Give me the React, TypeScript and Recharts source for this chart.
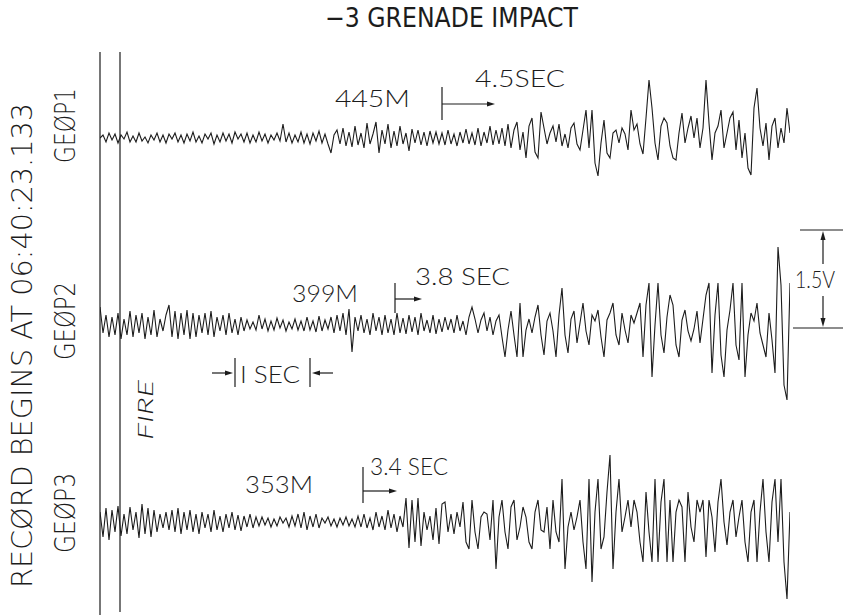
import { Line, LineChart, XAxis, YAxis } from 'recharts';

// amplitudes, one sample every ~0.04 s (plot units, 1.5 V ~ 98 units)
const geop1 = [
  0, 3, -4, 5, -2, 4, -5, 3, -1, 6, -4, 2, -4, 5, -3, 1, -5, 3, -2, 5, -4, 3, -5, 4, -1, 5, -4,
  3, -5, 4, -3, 6, -4, 2, -5, 4, -1, 5, -6, 3, -4, 5, -3, 4, -5, 6, -1, 4, -4, 5, -5, 3, -4, 6, -3, 4, -5, 3, -2, 5, -3,
  14, -4, 5, -5, 3, -4, 6, -5, 4, -6, 5, -3, 7, -5, 4, -6,
  -15, 3, 8, -6, 10, -8, 6, -9, 12, -7, 5, -10, 15, -6, 4, 16, -15, 8, -6, 14, -10, 7, -8, 12, -6, 5, -13, 9, -5, 8, -7, 6, -8, 7, -5, 6, -6,
  5, -7, 8, -6, 4, -8, 6, -5, 9, -6, 5, -7, 10, -8, 6, -5, 12, -7, 8, -6,
  10, -8, 14, -10, 8, 16, -12, 6, -20, 12, 20, -14, -20, 26, 10, -6, 5, 12, -4, 14, -8, 4, -10, 10, 15, -6, -12, 8,
  28, -10, 28, -25, -38, -5, 18, -15, -20, 5, 8, -5, 10, 4, -12, 28, 8, 14, -6, -16, 20, 58, 30, -5, -22, 12, 20, 15,
  -8, -20, -22, 5, 25, -5, 10, 22, 0, 20, -10, 10, 58, 15, -22, 5, 12, 28, -10, 5, 20, 26, -12, 18, -20, 5, -30, -37,
  30, 50, 10, -8, 15, -22, 12, 20, -10, 10, -5, 30, 5,
];

const geop2 = [
  18, -8, 10, -12, 8, -10, 12, -14, 6, -10, 14, -12, 10, -8, 12, -14, 8, -10, 15, -12, 6, -6, 10, 20, -12, 14, -14, 12, -10, 15,
  -14, 12, -12, 10, -8, 12, -10, 14, -12, 8, -6, 10, -10, 12, -8, 6, -10, 8, -6, 5, -4,
  3, -5, 10, -4, 6, -6, 4, -5, 7, -3, 5, -6, 3, -4, 6, -5, 4, -6, 8, -5, 4, -7, 9, -6, 5, -4,
  8, -8, 10, -6, 12, -10, 16, -27, 8, -6, 10, -8, 6, -10, 12, -6, 8, -10, 10, -8, 6, -10, 12, -8, 7, -9, 10, -7, 8, -10,
  12, -6, 5, -8, 10, -9, 6, -7, 8, -5,
  6, -8, 10, -6, 4, -10, 8, 18, 6, -8, 5, 12, -6, 8, -10, 4, 10,
  -12, -32, -5, 14, -10, -32, 22, -32, -5, 6, -8, 8, 20, -10, -30, 4, 12, -6, -32, 10, 37, -10, -28, 6, 14, -18, 2, 22,
  -6, -20, 10, 4, 15, -12, -32, 5, 12, 22, -10, -20, 12, -5, -18, 10, 2, 12, 22, -32, 20, 42, -52, 0, 42, -10, -28, 8,
  30, 20, -20, -32, 5, 15, -6, -16, -4, 14, -18, 6, 30, 42, -48, 10, 42, -30, -52, -5, 15, 42, -20, -35, 42, -52, -10,
  12, 4, 22, -8, -20, -32, 12, -15, -48, 78, 40, -60, -75, 42,
];

const geop3 = [
  10, -15, 14, -18, 12, -10, 16, -14, 8, -12, 15, -8, 10, -16, 18, -12, 14, -15, 12, -10, 8, -6, 10, -8, 12, -10, 14, -12, 10, -8, 12,
  -10, 8, -12, 10, -6, 8, -10, 12, -8, 6, -10, 8, -6, 10, -8, 7, -9, 6, -5, 8, -6, 5,
  -4, 5, -3, 4, -5, 3, -4, 5, -1, 4, -5, 6, -4, 8, -6, 10, -8, 6, -5, 8, -6, 4, -1, 5, -4, 3, -5, 4, -3, 5, -4, 3, -5,
  6, -5, 8, -6, 4, -8, 10, -5, 6, -8, 12, -6, 8, -10, 6, -5,
  24, -26, 22, -20, 24, -24, 10, -8, 6, -18, 14, -22, 18, 20, -10, 8, -12, 10, -5, 20, -20, -27, 22, -10, -27, 5, 10, 8,
  -18, 22, -47, 5,
  22, -10, -27, 15, 22, -18, -5, 15, 5, -20, -27, 10, 22, -8, -10, 15, -27, 22, -10, -20, 43, -47, -5, 10, -8, 5, 22, -20,
  -47, 43, -60, 10, 43, -27, -15, 30, 67, -47, 10, 43, -10, 5, 22, -5, 22, 10, -20, -40, 30, -10, -40, 43, -40, 20, 43,
  -40, 22, -40, 10, 22, 15, -40, 30, -5, -20, 22, 10, 22, -35, 22, 5, -30, 20, 43, 0, -23, 10, 22, -15, 5, 22, -20, -40,
  10, 22, -40, 10, 43, -10, -40, 20, 43, -20, 43, -40, -77, 10,
];

const traces = [
  { name: 'GEØP1', values: geop1, top: 38 },
  { name: 'GEØP2', values: geop2, top: 225 },
  { name: 'GEØP3', values: geop3, top: 422 },
];

const ink = '#1c1c1c';
const thin = { fontFamily: 'DejaVu Sans', fontWeight: 200, fill: ink };
const plain = { fontFamily: 'Lato, "Open Sans", sans-serif', fontWeight: 300, fill: ink };

function Trace({ values, top }: { values: number[]; top: number }) {
  const rows = values.map((v, i) => ({ i, v }));
  return (
    <div style={{ position: 'absolute', left: 100, top }}>
      <LineChart width={690} height={200} data={rows} margin={{ top: 0, right: 0, bottom: 0, left: 0 }}>
        <XAxis dataKey="i" type="number" domain={[0, 230]} hide />
        <YAxis type="number" domain={[-100, 100]} hide />
        <Line
          type="linear"
          dataKey="v"
          stroke={ink}
          strokeWidth={1.1}
          dot={false}
          isAnimationActive={false}
        />
      </LineChart>
    </div>
  );
}

function Arrow({ x1, x2, y }: { x1: number; x2: number; y: number }) {
  const d = x2 > x1 ? 1 : -1;
  return (
    <g>
      <line x1={x1} y1={y} x2={x2 - d * 6} y2={y} stroke={ink} strokeWidth={1.2} />
      <polygon points={`${x2},${y} ${x2 - d * 8},${y - 2.5} ${x2 - d * 8},${y + 2.5}`} fill={ink} />
    </g>
  );
}

function Overlay() {
  return (
    <svg width={844} height={615} style={{ position: 'absolute', left: 0, top: 0 }}>
      <text x={325} y={27} textLength={253} lengthAdjust="spacingAndGlyphs" fontSize={27} {...thin} fontWeight={400}>
        −3 GRENADE  IMPACT
      </text>

      <line x1={100} y1={52} x2={100} y2={615} stroke={ink} strokeWidth={1.2} />
      <line x1={120} y1={52} x2={120} y2={612} stroke={ink} strokeWidth={1.2} />

      <text transform="translate(32,588) rotate(-90)" textLength={485} lengthAdjust="spacingAndGlyphs" fontSize={29} {...thin}>
        RECØRD BEGINS AT 06:40:23.133
      </text>
      <text transform="translate(75,163) rotate(-90)" textLength={75} lengthAdjust="spacingAndGlyphs" fontSize={29} {...thin}>
        GEØP1
      </text>
      <text transform="translate(75,360) rotate(-90)" textLength={78} lengthAdjust="spacingAndGlyphs" fontSize={29} {...thin}>
        GEØP2
      </text>
      <text transform="translate(75,553) rotate(-90)" textLength={80} lengthAdjust="spacingAndGlyphs" fontSize={29} {...thin}>
        GEØP3
      </text>
      <text transform="translate(153,440) rotate(-90)" textLength={60} lengthAdjust="spacingAndGlyphs" fontSize={22} fontStyle="italic" {...plain}>
        FIRE
      </text>

      <text x={335} y={107} textLength={75} lengthAdjust="spacingAndGlyphs" fontSize={24} {...plain}>445M</text>
      <line x1={442} y1={87} x2={442} y2={120} stroke={ink} strokeWidth={1.2} />
      <Arrow x1={442} x2={495} y={104} />
      <text x={475} y={87} textLength={90} lengthAdjust="spacingAndGlyphs" fontSize={24} {...plain}>4.5SEC</text>

      <text x={292} y={302} textLength={66} lengthAdjust="spacingAndGlyphs" fontSize={24} {...plain}>399M</text>
      <line x1={395} y1={283} x2={395} y2={313} stroke={ink} strokeWidth={1.2} />
      <Arrow x1={395} x2={422} y={299} />
      <text x={415} y={285} textLength={95} lengthAdjust="spacingAndGlyphs" fontSize={24} {...plain}>3.8 SEC</text>

      <Arrow x1={212} x2={233} y={373} />
      <line x1={235} y1={358} x2={235} y2={387} stroke={ink} strokeWidth={1.2} />
      <text x={240} y={383} textLength={60} lengthAdjust="spacingAndGlyphs" fontSize={24} {...plain}>I SEC</text>
      <line x1={310} y1={358} x2={310} y2={387} stroke={ink} strokeWidth={1.2} />
      <Arrow x1={333} x2={312} y={373} />

      <text x={245} y={493} textLength={68} lengthAdjust="spacingAndGlyphs" fontSize={24} {...plain}>353M</text>
      <line x1={363} y1={467} x2={363} y2={503} stroke={ink} strokeWidth={1.2} />
      <Arrow x1={363} x2={397} y={491} />
      <text x={370} y={475} textLength={78} lengthAdjust="spacingAndGlyphs" fontSize={24} {...plain}>3.4 SEC</text>

      <line x1={800} y1={230} x2={843} y2={230} stroke={ink} strokeWidth={1.2} />
      <line x1={793} y1={328} x2={843} y2={328} stroke={ink} strokeWidth={1.2} />
      <line x1={823} y1={238} x2={823} y2={264} stroke={ink} strokeWidth={1.2} />
      <polygon points="823,231 820.5,240 825.5,240" fill={ink} />
      <line x1={823} y1={296} x2={823} y2={320} stroke={ink} strokeWidth={1.2} />
      <polygon points="823,327 820.5,318 825.5,318" fill={ink} />
      <text x={795} y={288} textLength={40} lengthAdjust="spacingAndGlyphs" fontSize={24} {...plain}>1.5V</text>
    </svg>
  );
}

export default function App() {
  return (
    <div style={{ position: 'fixed', left: 0, top: 0, width: 844, height: 615, background: '#fff', overflow: 'hidden' }}>
      {traces.map((t) => (
        <Trace key={t.name} values={t.values} top={t.top} />
      ))}
      <Overlay />
    </div>
  );
}
